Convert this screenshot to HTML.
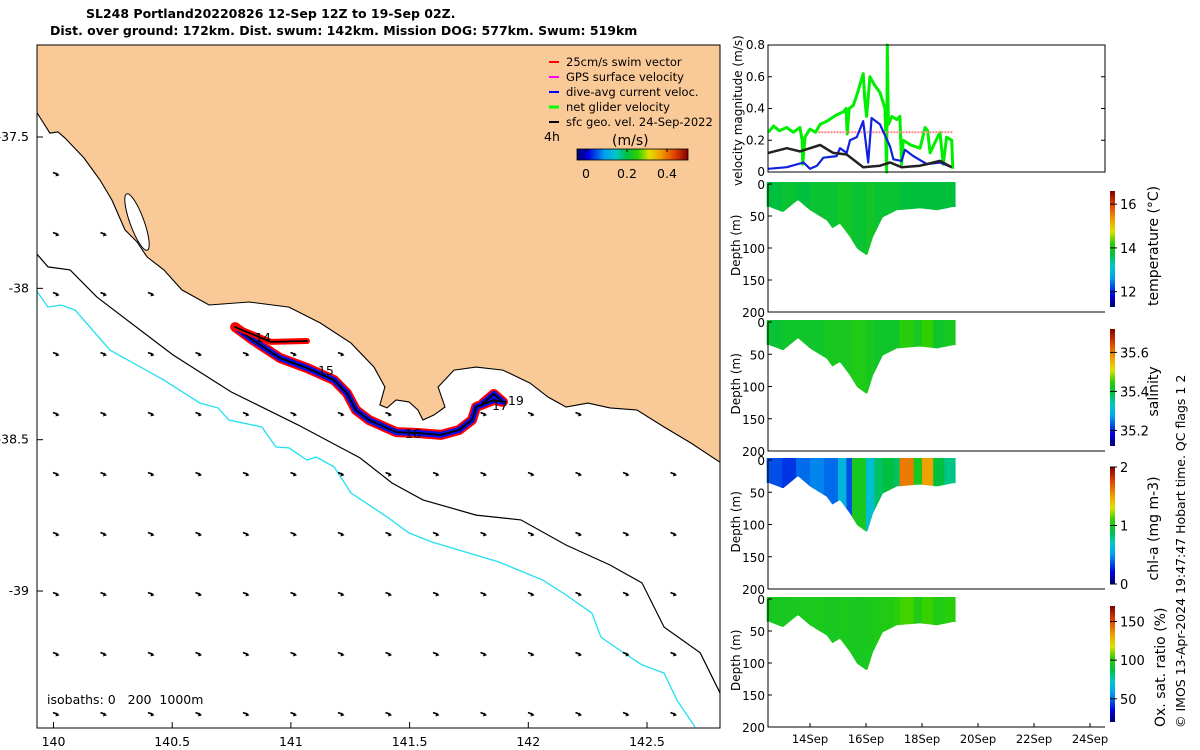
<!DOCTYPE html>
<html><head><meta charset="utf-8"><style>
html,body{margin:0;padding:0;background:#fff;}
svg{display:block;font-family:"DejaVu Sans","Liberation Sans",sans-serif;}
</style></head><body>
<svg id="fig" width="1200" height="750" viewBox="0 0 1200 750" xmlns="http://www.w3.org/2000/svg">
<text x="86" y="18" font-size="12.5" font-weight="bold">SL248 Portland20220826 12-Sep 12Z to 19-Sep 02Z.</text>
<text x="50" y="35" font-size="12.5" font-weight="bold">Dist. over ground: 172km. Dist. swum: 142km. Mission DOG: 577km. Swum: 519km</text>
<g id="map"></g>
<g id="right"></g>
<text transform="translate(1185,728) rotate(-90)" font-size="12.5">© IMOS 13-Apr-2024 19:47:47 Hobart time. QC flags 1  2</text>
</svg>
<script>
// ---------- map data ----------
const lonTicks=[140,140.5,141,141.5,142,142.5];
const latTicks=[-37.5,-38,-38.5,-39];
const coastLon=[139.926,139.985,140.019,140.048,140.128,140.196,140.246,140.301,140.352,140.394,140.465,140.541,140.655,140.824,140.992,141.123,141.253,141.350,141.396,141.375,141.405,141.443,141.497,141.535,141.556,141.603,141.649,141.620,141.687,141.780,141.893,142.007,142.083,142.159,142.251,142.344,142.458,142.572,142.685,142.812];
const coastLat=[-37.414,-37.487,-37.483,-37.503,-37.569,-37.642,-37.708,-37.807,-37.847,-37.896,-37.939,-38.005,-38.055,-38.045,-38.062,-38.114,-38.181,-38.260,-38.326,-38.385,-38.395,-38.369,-38.375,-38.402,-38.435,-38.418,-38.392,-38.326,-38.270,-38.260,-38.270,-38.313,-38.359,-38.392,-38.379,-38.395,-38.402,-38.458,-38.511,-38.577];
const iso200Lon=[139.926,139.977,140.070,140.183,140.503,140.748,141.030,141.291,141.426,141.556,141.780,141.969,142.159,142.344,142.479,142.572,142.724,142.808];
const iso200Lat=[-37.883,-37.929,-37.939,-38.029,-38.220,-38.342,-38.451,-38.560,-38.643,-38.699,-38.749,-38.765,-38.848,-38.914,-38.973,-39.119,-39.204,-39.337];
const iso1000Lon=[139.926,139.977,140.032,140.091,140.238,140.465,140.617,140.693,140.739,140.878,140.937,140.992,141.068,141.106,141.182,141.253,141.405,141.497,141.594,141.876,142.062,142.159,142.268,142.306,142.403,142.479,142.572,142.626,142.702];
const iso1000Lat=[-38.005,-38.062,-38.055,-38.072,-38.204,-38.303,-38.379,-38.395,-38.435,-38.458,-38.524,-38.527,-38.567,-38.557,-38.590,-38.676,-38.755,-38.808,-38.838,-38.904,-38.964,-39.013,-39.073,-39.152,-39.205,-39.244,-39.271,-39.360,-39.449];
const trackLon=[140.765,140.840,140.954,141.068,141.182,141.236,141.274,141.329,141.443,141.535,141.632,141.708,141.763,141.780,141.855,141.893,141.855,141.809];
const trackLat=[-38.128,-38.171,-38.230,-38.263,-38.303,-38.346,-38.402,-38.435,-38.475,-38.478,-38.484,-38.468,-38.435,-38.392,-38.369,-38.375,-38.349,-38.379];
const legLon=[140.765,140.916,141.068];
const legLat=[-38.128,-38.177,-38.174];
const dayLabels=["14","15","16","17","19"];
const dayLon=[140.849,141.114,141.481,141.847,141.914];
const dayLat=[-38.177,-38.286,-38.494,-38.402,-38.385];

const mx0=37,mx1=720,my0=45,my1=728;
const lonX=l=>53.5+(l-140)*237.4;
const latY=a=>137+(-37.5-a)*302.7;
const NS="http://www.w3.org/2000/svg";
function mk(tag,attrs,parent){const e=document.createElementNS(NS,tag);for(const k in attrs)e.setAttribute(k,attrs[k]);parent.appendChild(e);return e;}
const map=document.getElementById('map');
const defs=mk('defs',{},map);
const cp=mk('clipPath',{id:'mapclip'},defs);mk('rect',{x:mx0,y:my0,width:mx1-mx0,height:my1-my0},cp);
const g=mk('g',{'clip-path':'url(#mapclip)'},map);
function pathFrom(lons,lats){return lons.map((l,i)=>(i?'L':'M')+lonX(l).toFixed(1)+','+latY(lats[i]).toFixed(1)).join('');}
let lp=pathFrom(coastLon,coastLat)+`L${mx1+5},${my0-5}L${mx0-5},${my0-5}Z`;
let land=mk('path',{d:lp,fill:'#fac998',stroke:'#000','stroke-width':1.1},g);

let lake=mk('ellipse',{cx:137,cy:222,rx:7,ry:30,transform:'rotate(-20 137 222)',fill:'#fff',stroke:'#000','stroke-width':1},g);

let i2=mk('path',{d:pathFrom(iso200Lon,iso200Lat),fill:'none',stroke:'#000','stroke-width':1.2},g);

let i1=mk('path',{d:pathFrom(iso1000Lon,iso1000Lat),fill:'none',stroke:'#22e0f0','stroke-width':1.3},g);

// current arrows grid
function coastYAt(x){let lonp=140+(x-53.5)/237.4,yc=null;for(let k=0;k<coastLon.length-1;k++){const a=Math.min(coastLon[k],coastLon[k+1]),b=Math.max(coastLon[k],coastLon[k+1]);if(lonp>=a&&lonp<=b&&b>a){const t=(lonp-coastLon[k])/(coastLon[k+1]-coastLon[k]);const y=latY(coastLat[k]+t*(coastLat[k+1]-coastLat[k]));yc=yc===null?y:Math.max(yc,y);}}return yc;}
for(let r=0;r<10;r++){for(let c=0;c<14;c++){
  const x=55.5+c*47.5,y=173.5+r*60;
  const yc=coastYAt(x);
  if(yc!==null&&y<yc+5)continue;
  const a=mk('path',{d:`M${x-2.5},${y-1}L${x+2.5},${y+1}`,stroke:'#000','stroke-width':1.6},g);
  
  mk('path',{d:`M${x+4},${y+1.8}L${x},${y+3}L${x+1},${y-1}Z`,fill:'#000'},g);
}}
// track
const tp=pathFrom(trackLon,trackLat), lg=pathFrom(legLon,legLat);
[[tp,'#f00',10,'swim-vector-track'],[tp,'#0010f0',6,'dive-avg-current-track'],[tp,'#000',1.8,'glider-track']].forEach(s=>{
  const e=mk('path',{d:s[0],fill:'none',stroke:s[1],'stroke-width':s[2],'stroke-linejoin':'round','stroke-linecap':'round'},g);
  });
[['#f00',6],['#000',1.8]].forEach(s=>mk('path',{d:lg,fill:'none',stroke:s[0],'stroke-width':s[1],'stroke-linecap':'round'},g));
dayLabels.forEach((d,i)=>{const t=mk('text',{x:lonX(dayLon[i]),y:latY(dayLat[i]),'font-size':12.5},g);t.textContent=d;
  });
let it=mk('text',{x:47,y:704,'font-size':12.5},g);it.textContent='isobaths: 0   200  1000m';it.setAttribute('xml:space','preserve');it.style.whiteSpace='pre';

// legend
const legItems=["25cm/s swim vector","GPS surface velocity","dive-avg current veloc.","net glider velocity","sfc geo. vel. 24-Sep-2022"];
const legCols=['#f00','#f0f','#00f','#0f0','#000'];
legItems.forEach((s,i)=>{const y=62+i*15;mk('line',{x1:549,y1:y,x2:559,y2:y,stroke:legCols[i],'stroke-width':i==3?3:2},map);
 const t=mk('text',{x:566,y:y+4,'font-size':11.5},map);t.textContent=s;});
let t4=mk('text',{x:544,y:141,'font-size':12.5},map);t4.textContent='4h';
let tu=mk('text',{x:612,y:145,'font-size':14},map);tu.textContent='(m/s)';
const cmapStops=[[0,'#000070'],[0.1,'#0000e0'],[0.25,'#00a0f0'],[0.35,'#00c8c8'],[0.45,'#00c040'],[0.55,'#30d000'],[0.65,'#e0e000'],[0.75,'#f0a000'],[0.88,'#e04000'],[1,'#800000']];
function hex(h){return [1,3,5].map(i=>parseInt(h.substr(i,2),16));}
function cmap(t){t=Math.max(0,Math.min(1,t));for(let k=0;k<cmapStops.length-1;k++){const[a,ca]=cmapStops[k],[b,cb]=cmapStops[k+1];if(t<=b){const f=(t-a)/(b-a),A=hex(ca),B=hex(cb);return `rgb(${A.map((v,j)=>Math.round(v+f*(B[j]-v))).join(',')})`;}}return '#800000';}
const grad=mk('linearGradient',{id:'jeth',x1:0,y1:0,x2:1,y2:0},defs);
const gradv=mk('linearGradient',{id:'jetv',x1:0,y1:1,x2:0,y2:0},defs);
cmapStops.forEach(s=>{mk('stop',{offset:s[0],'stop-color':s[1]},grad);mk('stop',{offset:s[0],'stop-color':s[1]},gradv);});
let cb=mk('rect',{x:577,y:149,width:111,height:11,fill:'url(#jeth)',stroke:'#000','stroke-width':0.8},map);

[['0',586],['0.2',627],['0.4',667]].forEach(s=>{const t=mk('text',{x:s[1],y:178,'font-size':12.5,'text-anchor':'middle'},map);t.textContent=s[0];mk('line',{x1:s[1],y1:149,x2:s[1],y2:152,stroke:'#000'},map);});
mk('rect',{x:mx0,y:my0,width:mx1-mx0,height:my1-my0,fill:'none',stroke:'#000','stroke-width':1},map);
lonTicks.forEach(l=>{const x=lonX(l);mk('line',{x1:x,y1:my1,x2:x,y2:my1-6,stroke:'#000'},map);const t=mk('text',{x:x,y:746,'font-size':12.5,'text-anchor':'middle'},map);t.textContent=String(l);});
latTicks.forEach(a=>{const y=latY(a);mk('line',{x1:mx0,y1:y,x2:mx0+6,y2:y,stroke:'#000'},map);const t=mk('text',{x:29,y:y+4,'font-size':12.5,'text-anchor':'end'},map);t.textContent=String(a);});

// ---------- right panels data ----------
const dateTicks=[14,16,18,20,22,24];
const dateLabels=["14Sep","16Sep","18Sep","20Sep","22Sep","24Sep"];
const velTicks=[0,0.2,0.4,0.6,0.8];
const greenDays=[12.51,12.7,12.9,13.17,13.4,13.64,13.72,13.74,13.82,14.0,14.2,14.36,14.6,14.95,15.2,15.29,15.33,15.4,15.55,15.7,15.9,15.96,16.02,16.14,16.3,16.5,16.68,16.74,16.76,16.8,16.92,17.1,17.21,17.27,17.33,17.6,17.93,18.0,18.11,18.2,18.29,18.45,18.64,18.76,18.88,19.06,19.1];
const greenVel=[0.25,0.29,0.26,0.28,0.25,0.28,0.2,0.05,0.22,0.27,0.25,0.3,0.32,0.36,0.38,0.4,0.24,0.4,0.42,0.5,0.62,0.45,0.35,0.6,0.55,0.5,0.4,0.0,0.8,0.3,0.35,0.33,0.35,0.05,0.2,0.17,0.15,0.2,0.28,0.26,0.12,0.18,0.25,0.05,0.22,0.2,0.02];
const blueDays=[12.51,13.17,13.77,14.0,14.25,14.48,14.95,15.07,15.31,15.43,15.67,15.9,16.08,16.2,16.5,16.86,16.98,17.27,17.39,17.69,18.17,18.64,19.06];
const blueVel=[0.02,0.03,0.06,0.02,0.04,0.09,0.1,0.15,0.12,0.2,0.22,0.32,0.06,0.34,0.3,0.16,0.08,0.07,0.14,0.1,0.05,0.06,0.03];
const blackDays=[12.51,13.17,13.64,14.36,14.83,15.31,15.9,16.5,16.86,17.27,17.93,18.17,18.64,19.06];
const blackVel=[0.12,0.15,0.13,0.17,0.12,0.11,0.03,0.04,0.06,0.03,0.04,0.05,0.07,0.03];
const redDays=[14.3,19.1];
const redVel=[0.25,0.25];
const profDays=[12.5,13.04,13.57,14.0,14.6,14.8,15.07,15.43,15.68,16.04,16.25,16.6,17.1,17.93,18.54,19.1,19.2];
const profBottom=[35,44,25,41,57,69,62,83,101,112,83,52,41,38,41,36,36];
const binDays=[12.5,13.0,13.5,14.0,14.5,15.0,15.3,15.5,16.0,16.3,16.6,17.0,17.2,17.7,18.0,18.4,18.8];
const tempVals=[13.7,13.8,13.7,13.8,13.8,13.9,13.9,13.8,13.9,13.8,13.8,13.8,13.7,13.7,13.7,13.7,13.7];
const salVals=[35.40,35.41,35.41,35.41,35.42,35.42,35.42,35.43,35.42,35.41,35.41,35.41,35.44,35.42,35.45,35.41,35.42];
const chlVals=[0.35,0.3,0.4,0.45,0.4,0.6,0.35,1.0,0.65,0.85,0.9,0.85,1.6,1.0,1.5,0.9,0.8];
const oxyVals=[95,95,96,96,95,96,96,95,96,97,98,100,104,98,103,98,100];

const rx0=768,rx1=1105;
const dX=d=>810+(d-14)*28;
const R=document.getElementById('right');
function poly(days,vals,Y){return days.map((d,i)=>(i?'L':'M')+dX(d).toFixed(1)+','+Y(vals[i]).toFixed(1)).join('');}
const vy0=45,vy1=172;const vY=v=>vy1-v/0.8*(vy1-vy0);
const vs=[[greenDays,greenVel,'#00ee00',3,'net-glider-velocity-line'],[redDays,redVel,'#f88',2,'swim-vector-line'],[blueDays,blueVel,'#1020e0',2.2,'dive-avg-current-line'],[blackDays,blackVel,'#222',2.5,'geostrophic-velocity-line']];
vs.forEach(s=>{const e=mk('path',{d:poly(s[0],s[1],vY),fill:'none',stroke:s[2],'stroke-width':s[3],'stroke-linejoin':'round','stroke-dasharray':s[4]=='swim-vector-line'?'2,1':'none'},R);});
mk('rect',{x:rx0,y:vy0,width:rx1-rx0,height:vy1-vy0,fill:'none',stroke:'#000'},R);
velTicks.forEach(v=>{const y=vY(v);mk('line',{x1:rx0,y1:y,x2:rx0+4,y2:y,stroke:'#000'},R);mk('line',{x1:rx1,y1:y,x2:rx1-4,y2:y,stroke:'#000'},R);const t=mk('text',{x:rx0-3,y:y+4,'font-size':12,'text-anchor':'end'},R);t.textContent=v===0?'0':String(v);});
let vl=mk('text',{transform:`translate(742,186) rotate(-90)`,'font-size':12},R);vl.textContent='velocity magnitude (m/s)';

const depthTicks=[0,50,100,150,200];
function bottomAt(d){for(let k=0;k<profDays.length-1;k++){if(d>=profDays[k]&&d<=profDays[k+1]){const t=(d-profDays[k])/(profDays[k+1]-profDays[k]);return profBottom[k]+t*(profBottom[k+1]-profBottom[k]);}}return 36;}
const panels=[
 {y0:184,y1:312,vals:tempVals,min:11.3,max:16.6,ticks:[12,14,16],lab:'temperature (°C)',name:'temperature'},
 {y0:322,y1:451,vals:salVals,min:35.12,max:35.72,ticks:[35.2,35.4,35.6],lab:'salinity',name:'salinity'},
 {y0:460,y1:589,vals:chlVals,min:0,max:2,ticks:[0,1,2],lab:'chl-a (mg m-3)',name:'chlorophyll'},
 {y0:599,y1:727,vals:oxyVals,min:20,max:170,ticks:[50,100,150],lab:'Ox. sat. ratio (%)',name:'oxygen'}];
panels.forEach((p,pi)=>{
 const Y=z=>p.y0+z/200*(p.y1-p.y0);
 const grp=mk('g',{},R);
 const cid='pc'+pi;const c=mk('clipPath',{id:cid},defs);
 let pts=[];for(let d=12.45;d<=19.2001;d+=0.05){pts.push(dX(d).toFixed(1)+','+Y(bottomAt(d)).toFixed(1));}
 mk('path',{d:`M${dX(12.45)},${p.y0-2}L`+pts.join('L')+`L${dX(19.2)},${p.y0-2}Z`},c);
 const sg=mk('g',{'clip-path':`url(#${cid})`},grp);
 binDays.forEach((d,i)=>{const d2=i<binDays.length-1?binDays[i+1]:19.2;const dd=i==0?12.45:d;
  const r=mk('rect',{x:dX(dd),y:p.y0-2,width:dX(d2)-dX(dd)+0.5,height:Y(120)-p.y0,fill:cmap((p.vals[i]-p.min)/(p.max-p.min))},sg);
  });
 mk('path',{d:`M${rx0},${p.y0}L${rx0},${p.y1}L${rx1},${p.y1}`,fill:'none',stroke:'#000'},grp);
 depthTicks.forEach(z=>{const y=Y(z);mk('line',{x1:rx0,y1:y,x2:rx0+4,y2:y,stroke:'#000'},grp);const t=mk('text',{x:rx0-3,y:y+5,'font-size':12,'text-anchor':'end'},grp);t.textContent=String(z);});
 const dl=mk('text',{transform:`translate(740,${(p.y0+p.y1)/2+28}) rotate(-90)`,'font-size':12},grp);dl.textContent='Depth (m)';
 
 const cy0=p.y0+7,cy1=p.y1-5;
 const cbr=mk('rect',{x:1110,y:cy0,width:5,height:cy1-cy0,fill:'url(#jetv)'},grp);
 
 p.ticks.forEach(v=>{const y=cy1-(v-p.min)/(p.max-p.min)*(cy1-cy0);mk('line',{x1:1110,y1:y,x2:1117,y2:y,stroke:'#000'},grp);const t=mk('text',{x:1120,y:y+5,'font-size':13},grp);t.textContent=String(v);});
 const cl=mk('text',{transform:`translate(${pi==3?1165:1158},${pi==3?727:(p.y0+p.y1)/2+ (pi==0?58:pi==1?30:56)}) rotate(-90)`,'font-size':14},grp);cl.textContent=p.lab;
 
});
dateTicks.forEach((d,i)=>{const x=dX(d);mk('line',{x1:x,y1:727,x2:x,y2:723,stroke:'#000'},R);const t=mk('text',{x:x,y:743,'font-size':11.5,'text-anchor':'middle'},R);t.textContent=dateLabels[i];});
</script>
</body></html>
